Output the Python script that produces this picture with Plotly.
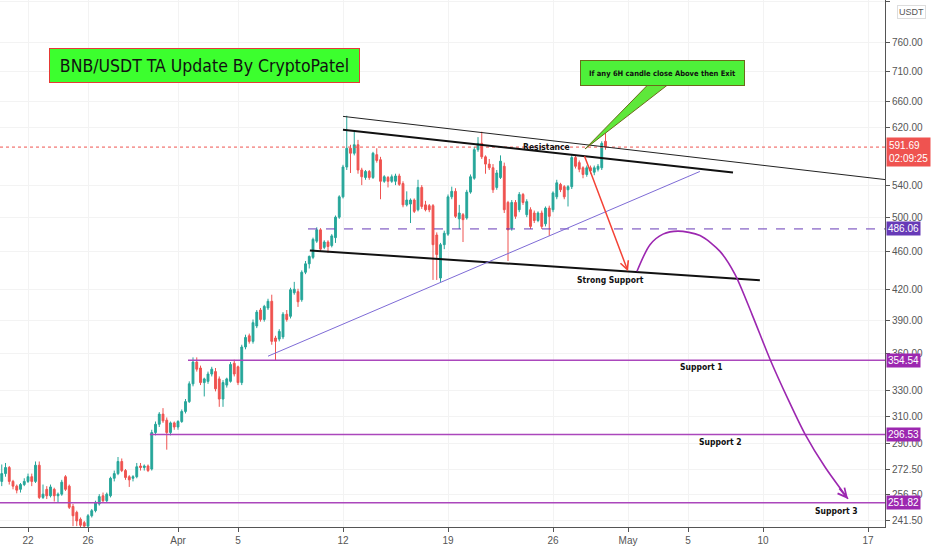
# -*- coding: utf-8 -*-
"""
BNB/USDT 6H chart with TA drawings (TradingView style), rebuilt in Plotly.
"""
import numpy as np
import pandas as pd
import plotly.graph_objects as go

# ---------------------------------------------------------------------------
# Data: 6H candles starting 2021-03-20 06:00
# ---------------------------------------------------------------------------
candle_start = "2021-03-20 06:00"

opens = [
    265, 270, 274, 265, 262, 260, 263, 265, 268, 265,
    275.5, 255, 260, 256, 260, 256, 257, 268, 262, 249.5,
    246, 242, 240, 238, 244, 247, 251, 256, 253, 256,
    267, 270, 278, 272, 268, 267, 268, 275, 274, 275,
    273, 298, 304, 311.5, 307, 298, 305, 302, 306, 313.5,
    321, 335, 353, 348, 336, 337, 343, 345, 339, 323,
    334, 337, 352, 349, 336, 366, 376, 371, 385, 400,
    391, 402, 408.5, 374, 373, 375, 396, 394, 417, 418,
    410, 438, 447, 454, 472, 485, 465, 471, 467, 476,
    500, 525, 564, 590, 583, 595, 560, 550, 558, 550,
    581, 574, 545, 550, 545, 545, 552, 542, 515, 516,
    521, 509, 537, 515, 514, 514, 479, 432, 468, 480,
    525, 532, 498, 503, 499, 531, 549, 588, 597, 578,
    568, 563, 537, 550, 565, 518, 487, 518, 509, 528,
    503, 509, 505, 496, 505, 492, 511, 509, 525, 541,
    538, 534, 538, 577, 570, 563, 554, 563, 557, 561,
    563, 600,
]
highs = [
    276, 277, 275, 266, 263, 264, 267, 270, 270, 278,
    278, 263, 262, 263, 261, 258, 266, 269, 263, 251,
    247, 243, 241, 245, 248, 253, 257, 258, 258, 268,
    272, 281, 280, 273, 269, 269, 277, 277, 276, 276,
    300, 306, 313, 316, 309, 306, 306, 307, 315, 323,
    337, 357, 357, 350, 340, 345, 349, 348, 341, 338,
    340, 353, 355, 350, 368, 377, 378, 391, 400, 402,
    405, 411, 415, 376, 382, 398, 400, 422, 428, 421,
    440, 450, 456, 476, 488, 487, 473, 473, 480, 502,
    527, 567, 638, 595, 614, 602, 563, 560, 560, 585,
    590, 578, 553, 552, 554, 555, 555, 545, 532, 523,
    523, 547, 540, 520, 516, 516, 482, 470, 484, 528,
    538, 536, 515, 505, 534, 554, 592, 606, 614, 580,
    575, 568, 560, 580, 570, 520, 521, 521, 531, 530,
    522, 512, 508, 507, 508, 513, 514, 532, 547, 543,
    540, 540, 582, 580, 573, 565, 566, 566, 566, 568,
    600, 612,
]
lows = [
    262, 268, 263, 260, 257.5, 258, 262, 264, 262, 264,
    254, 254, 254, 255, 252.5, 252, 256, 259, 248, 238,
    238, 235, 234, 233, 243, 246, 250, 252, 252, 255,
    265, 269, 271, 266, 261.5, 265, 267, 272, 272, 271,
    272, 296, 302, 305, 286, 296, 300, 300, 305, 312,
    320, 333, 345, 334, 325, 335, 341, 329, 317, 317,
    332, 336, 341, 334, 334, 364, 369, 369, 383, 389,
    389, 400, 368, 354, 371, 373, 389, 392, 415, 403,
    408, 436, 442, 452, 470, 461, 463, 459, 465, 470,
    498, 523, 560, 556, 580, 555, 540, 547, 547, 548,
    570, 522, 543, 537, 543, 540, 539, 512, 513, 493,
    505, 507, 510, 507, 506, 430, 430, 428, 463, 478,
    522, 499, 486, 471, 497, 529, 547, 585, 575, 555,
    560, 530, 534, 548, 505, 450, 484, 498, 506, 515,
    500, 486, 493, 494, 486, 489, 478, 506, 522, 531,
    522, 513, 535, 562, 557, 549, 551, 555, 553, 558,
    560, 588,
]
closes = [
    270, 274, 265, 262, 259.5, 263, 265, 268, 265, 275.5,
    255, 257, 256, 261.5, 256, 257, 264.5, 260, 249, 244,
    241, 238.5, 238, 244, 247, 252, 255.5, 253, 257, 267,
    270, 278, 272, 267.5, 266, 268, 274.5, 274, 275, 272,
    298, 304, 311.5, 306.5, 298, 305, 302, 306, 313.5, 321,
    335, 353, 347, 336, 339, 343, 347, 331, 323, 336,
    339, 351, 343, 336, 366, 374.5, 371, 388, 398, 391,
    403.5, 408.5, 371, 371, 380, 396, 391, 420, 420.5, 408,
    438, 447, 455, 474, 485, 463, 471, 466, 478, 500,
    525, 564, 590, 583, 595, 560, 551, 558, 550, 583,
    573, 545, 551, 545, 551, 552, 541, 515, 521, 521,
    507, 537, 513, 509, 509, 468, 457, 468, 481, 525,
    532, 501, 505, 497, 531, 551, 588, 597, 578, 568,
    563, 534, 556, 572, 509, 485, 518, 501, 528, 518,
    519, 489, 496, 505, 489, 511, 501, 530, 543, 534,
    525, 538, 577, 565, 561, 554, 563, 559, 563, 565,
    597, 591.69,
]

# Horizontal levels
last_price = 591.69
last_timer = "02:09:25"
mid_level = 486.06
mid_start = "2021-04-09 16:00"
support_levels = [354.54, 296.53, 251.82]
support_names = ["Support 1", "Support 2", "Support 3"]
support_starts = ["2021-04-01 16:00", "2021-03-30 03:00", "2021-03-19 00:00"]

# Trend lines (dates, prices)
upper_dates, upper_prices = ["2021-04-12 00:00", "2021-05-19 03:00"], [637, 545]
resist_dates, resist_prices = ["2021-04-12 00:00", "2021-05-08 00:00"], [617, 556.5]
floor_dates, floor_prices = ["2021-04-09 19:00", "2021-05-09 19:00"], [461.6, 429.6]
rising_dates, rising_prices = ["2021-04-07 00:00", "2021-05-05 19:00"], [358, 558]

# Red arrow (from -> to)
red_arrow_dates, red_arrow_prices = ["2021-04-28 01:36", "2021-05-01 00:00"], [581, 439]

# Projected path (purple)
path_dates = ["2021-05-01 14:24", "2021-05-02 11:12", "2021-05-03 08:00",
              "2021-05-04 08:00", "2021-05-05 19:12", "2021-05-07 03:12",
              "2021-05-08 03:12", "2021-05-09 06:24", "2021-05-10 11:12",
              "2021-05-11 16:00", "2021-05-12 19:12", "2021-05-14 03:12",
              "2021-05-15 16:00"]
path_prices = [439, 468, 480, 483.5, 478.5, 460.5, 435.8, 395.9, 355.4,
               322.9, 296.9, 274.3, 254.1]
path_head_from = ("2021-05-15 00:00", 261.5)

# Callout pointer (base left, base right, tip)
pointer_dates = ["2021-05-02 08:00", "2021-05-03 16:00", "2021-04-28 03:12"]
pointer_prices = [687.5, 687.5, 589]

# Axis ticks
x_tickvals = ["2021-03-22", "2021-03-26", "2021-04-01", "2021-04-05", "2021-04-12",
              "2021-04-19", "2021-04-26", "2021-05-01", "2021-05-05", "2021-05-10",
              "2021-05-17"]
x_ticktext = ["22", "26", "Apr", "5", "12", "19", "26", "May", "5", "10", "17"]
y_tickvals = [241.5, 256.5, 272.5, 290, 310, 330, 360, 390, 420, 460, 500, 540,
              620, 660, 710, 760, 840]

x_range = ["2021-03-20 03:12", "2021-05-18 03:12"]
y_range = [237.5, 842.5]

# ---------------------------------------------------------------------------
GREEN = "#26a69a"
RED = "#ef5350"
MAGENTA = "#ab47bc"
VIOLET = "#673ab7"
AXIS = "#555555"
FONT = "DejaVu Sans Condensed, Liberation Sans Narrow, Liberation Sans"
TICK_FONT = "Liberation Sans, Arial"

PLOT_W, PLOT_H = 885, 527


def pp(x, y):
    """pixel position in plot area -> paper coords"""
    return x / PLOT_W, 1 - y / PLOT_H


times = pd.date_range(candle_start, periods=len(opens), freq="6h")

fig = go.Figure()

fig.add_trace(go.Candlestick(
    x=times, open=opens, high=highs, low=lows, close=closes,
    increasing=dict(line=dict(color=GREEN, width=1), fillcolor=GREEN),
    decreasing=dict(line=dict(color=RED, width=1), fillcolor=RED),
    whiskerwidth=0, showlegend=False, hoverinfo="skip",
))


def line(xs, ys, color, width=1, dash="solid"):
    fig.add_trace(go.Scatter(x=xs, y=ys, mode="lines",
                             line=dict(color=color, width=width, dash=dash),
                             showlegend=False, hoverinfo="skip"))


# last price dotted line
line(x_range, [last_price, last_price], RED, 1, "dot")
# mid dashed level
line([mid_start, x_range[1]], [mid_level, mid_level], VIOLET, 1, "dash")
# supports
for lvl, start in zip(support_levels, support_starts):
    line([start, x_range[1]], [lvl, lvl], MAGENTA, 1.5)

# trend lines
line(upper_dates, upper_prices, "#222222", 1)
line(resist_dates, resist_prices, "#111111", 2)
line(floor_dates, floor_prices, "#111111", 2)
line(rising_dates, rising_prices, "#7e6bd6", 1)

# projected path
fig.add_trace(go.Scatter(x=path_dates, y=path_prices, mode="lines",
                         line=dict(color="#9c27b0", width=1.6, shape="spline", smoothing=0.8),
                         showlegend=False, hoverinfo="skip"))

# callout pointer
fig.add_trace(go.Scatter(x=pointer_dates + pointer_dates[:1],
                         y=pointer_prices + pointer_prices[:1],
                         mode="lines", fill="toself", fillcolor="#5ee83a",
                         line=dict(color="#6b6b1a", width=1),
                         showlegend=False, hoverinfo="skip"))

annotations = []

# arrows
annotations.append(dict(
    x=red_arrow_dates[1], y=np.log10(red_arrow_prices[1]), xref="x", yref="y",
    ax=red_arrow_dates[0], ay=np.log10(red_arrow_prices[0]), axref="x", ayref="y",
    showarrow=True, arrowhead=5, arrowsize=1.1, arrowwidth=1.5, arrowcolor="#f44336", text=""))
annotations.append(dict(
    x=path_dates[-1], y=np.log10(path_prices[-1]), xref="x", yref="y",
    ax=path_head_from[0], ay=np.log10(path_head_from[1]), axref="x", ayref="y",
    showarrow=True, arrowhead=5, arrowsize=1.1, arrowwidth=1.6, arrowcolor="#9c27b0", text=""))

# title box
x, y = pp(204.5, 65.5)
annotations.append(dict(
    x=x, y=y, xref="paper", yref="paper", xanchor="center", yanchor="middle",
    showarrow=False, text="BNB/USDT TA Update By CryptoPatel",
    font=dict(family=FONT, size=17.5, color="#111111"),
    bgcolor="#3cff2e", bordercolor="#e53935", borderwidth=1,
    width=307, height=31))

# callout box
x, y = pp(662, 73)
annotations.append(dict(
    x=x, y=y, xref="paper", yref="paper", xanchor="center", yanchor="middle",
    showarrow=False, text="<b>If any 6H candle close Above then Exit</b>",
    font=dict(family=FONT, size=7.5, color="#111111"),
    bgcolor="#4ef03a", bordercolor="#6b6b1a", borderwidth=1,
    width=161, height=22))

# text labels
for txt, (lx, ly) in [("Resistance", (546, 147)), ("Strong Support", (610, 280)),
                      (support_names[0], (701, 367)), (support_names[1], (720, 442)),
                      (support_names[2], (836, 511))]:
    x, y = pp(lx, ly)
    annotations.append(dict(x=x, y=y, xref="paper", yref="paper",
                            xanchor="center", yanchor="middle", showarrow=False,
                            text=f"<b>{txt}</b>",
                            font=dict(family=FONT, size=8.5, color="#111111")))

# right axis price labels
annotations.append(dict(
    x=1, y=np.log10(last_price), xref="paper", yref="y", xanchor="left", yanchor="middle",
    yshift=-5, xshift=1, showarrow=False, align="left",
    text=f"{last_price:.2f}<br>{last_timer}",
    font=dict(family=TICK_FONT, size=10, color="white"), bgcolor=RED, borderpad=2))
annotations.append(dict(
    x=1, y=np.log10(mid_level), xref="paper", yref="y", xanchor="left", yanchor="middle",
    xshift=1, showarrow=False, text=f"{mid_level:.2f}",
    font=dict(family=TICK_FONT, size=10, color="white"), bgcolor=VIOLET, borderpad=1))
for lvl in support_levels:
    annotations.append(dict(
        x=1, y=np.log10(lvl), xref="paper", yref="y", xanchor="left", yanchor="middle",
        xshift=1, showarrow=False, text=f"{lvl:.2f}",
        font=dict(family=TICK_FONT, size=10, color="white"), bgcolor="#9c27b0", borderpad=1))

# USDT tag
annotations.append(dict(
    x=1, y=1, xref="paper", yref="paper", xanchor="left", yanchor="top",
    xshift=12, yshift=-5, showarrow=False, text="USDT",
    font=dict(family=TICK_FONT, size=9, color=AXIS), bgcolor="white",
    bordercolor="#dddddd", borderwidth=1, borderpad=1))

fig.update_layout(
    width=932, height=550,
    margin=dict(l=0, r=47, t=0, b=23),
    plot_bgcolor="white", paper_bgcolor="white",
    showlegend=False,
    annotations=annotations,
    xaxis=dict(
        type="date", range=x_range, rangeslider=dict(visible=False),
        tickvals=x_tickvals, ticktext=x_ticktext, automargin=False,
        showgrid=True, gridcolor="#f3f3f3", zeroline=False,
        showline=True, linecolor=AXIS, linewidth=1,
        ticks="outside", ticklen=4, tickcolor=AXIS,
        tickfont=dict(family=TICK_FONT, size=10, color=AXIS),
    ),
    yaxis=dict(
        type="log", side="right", automargin=False,
        range=[np.log10(y_range[0]), np.log10(y_range[1])],
        tickvals=y_tickvals, ticktext=[f"{v:.2f}" for v in y_tickvals],
        showgrid=True, gridcolor="#f3f3f3", zeroline=False,
        showline=True, linecolor=AXIS, linewidth=1,
        ticks="outside", ticklen=4, tickcolor=AXIS,
        tickfont=dict(family=TICK_FONT, size=10, color=AXIS),
    ),
)

fig.write_html("out.html", config={"displayModeBar": False},
               post_script="document.body.style.margin='0px';")
